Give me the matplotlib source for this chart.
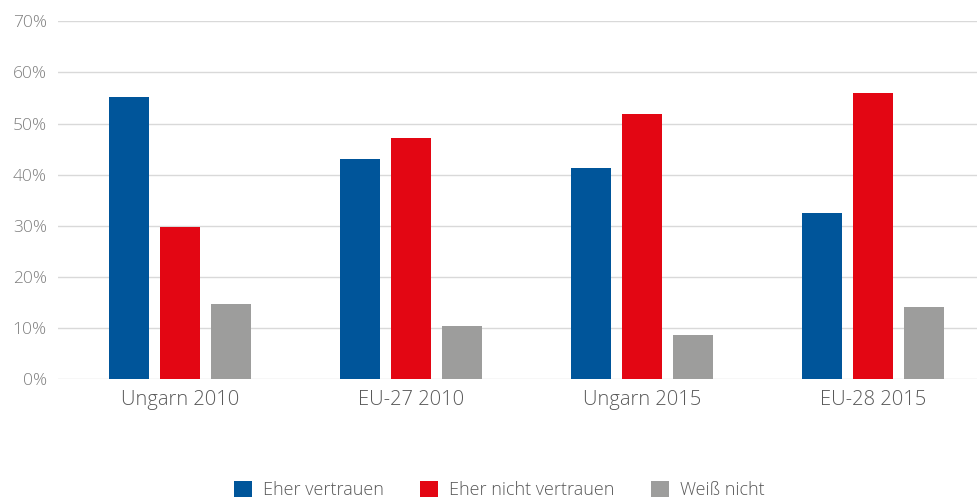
import matplotlib.pyplot as plt
import numpy as np

# Werte in Prozent
kategorien = ['Ungarn 2010', 'EU-27 2010', 'Ungarn 2015', 'EU-28 2015']
eher_vertrauen = [55.2, 43.0, 41.2, 32.4]
eher_nicht_vertrauen = [29.8, 47.2, 51.9, 56.0]
weiss_nicht = [14.6, 10.4, 8.6, 14.1]

serien = ['Eher vertrauen', 'Eher nicht vertrauen', 'Weiß nicht']
farben = ['#00559A', '#E30613', '#9D9D9C']

plt.rcParams['font.family'] = ['Open Sans', 'DejaVu Sans']
plt.rcParams['font.weight'] = 'light'

fig = plt.figure(figsize=(9.77, 4.98), dpi=100)
ax = fig.add_axes([58 / 977, 119 / 498, 919 / 977, 357.7 / 498])

x = np.arange(len(kategorien))
breite = 0.173
abstand = 0.221
for i, (werte, name, farbe) in enumerate(zip([eher_vertrauen, eher_nicht_vertrauen, weiss_nicht], serien, farben)):
    ax.bar(x + (i - 1) * abstand, np.array(werte) / 100, width=breite, color=farbe,
           label=name, zorder=3)

ax.set_ylim(0, 0.7)
ax.set_xlim(-0.528, 3.45)
ax.set_yticks(np.arange(0, 0.71, 0.1))
ax.set_yticklabels([f'{int(round(v * 100))}%' for v in np.arange(0, 0.71, 0.1)])
ax.set_xticks(x)
ax.set_xticklabels(kategorien)
ax.grid(axis='y', color='#d9d9d9', linewidth=1, zorder=0)
for s in ax.spines.values():
    s.set_visible(False)
ax.tick_params(axis='y', length=0, labelsize=12.5, labelcolor='#7f7f7f', pad=8)
ax.tick_params(axis='x', length=0, labelsize=14.5, labelcolor='#595959', pad=8)

fig.legend(loc='center', bbox_to_anchor=(0.511, 0.016), ncol=3, frameon=False,
           fontsize=13, handlelength=1.0, handleheight=1.0, handletextpad=0.6,
           columnspacing=2.0, labelcolor='#595959')

fig.savefig('out.png', dpi=100)
